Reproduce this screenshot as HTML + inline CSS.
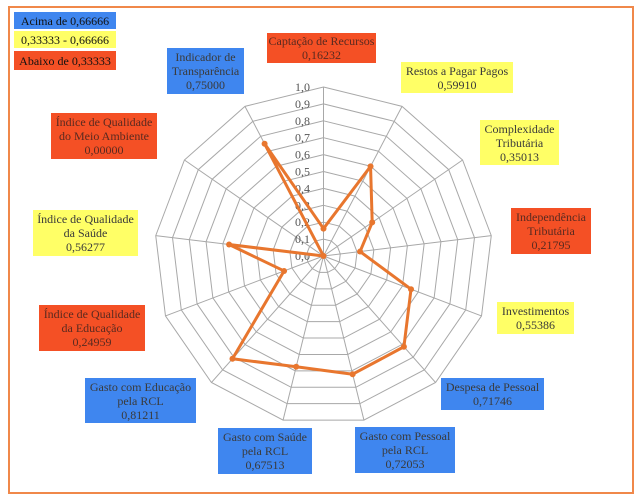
<!DOCTYPE html>
<html><head><meta charset="utf-8"><style>
body{margin:0;width:641px;height:504px;background:#fff;position:relative;overflow:hidden;font-family:"Liberation Serif",serif;}
.frame{position:absolute;left:8px;top:6px;width:626px;height:488px;border:2px solid #f0884a;box-sizing:border-box;}
.b{position:absolute;display:flex;flex-direction:column;justify-content:center;align-items:center;text-align:center;font-family:"Liberation Serif",serif;font-size:12px;line-height:14px;color:#3a3a3a;}
.bl{background:#3f86ef;}
.y{background:#ffff66;}
.r{background:#f45025;color:#5a2a20;}
svg{position:absolute;left:0;top:0;}
</style></head><body>
<div class="frame"></div>
<svg id="s" width="641" height="504"></svg>
<div class="b bl" style="left:14px;top:12px;width:102px;height:17px;color:#111">Acima de 0,66666</div>
<div class="b y" style="left:14px;top:31px;width:102px;height:17px;color:#111">0,33333 - 0,66666</div>
<div class="b r" style="left:14px;top:51px;width:102px;height:19px;color:#111">Abaixo de 0,33333</div>
<div class="b bl" style="left:167px;top:48px;width:77px;height:46px">Indicador de<br>Transparência<br>0,75000</div>
<div class="b r" style="left:267px;top:33px;width:109px;height:30px">Captação de Recursos<br>0,16232</div>
<div class="b y" style="left:401px;top:62px;width:112px;height:31px">Restos a Pagar Pagos<br>0,59910</div>
<div class="b y" style="left:480px;top:120px;width:79px;height:45px">Complexidade<br>Tributária<br>0,35013</div>
<div class="b r" style="left:511px;top:208px;width:80px;height:46px">Independência<br>Tributária<br>0,21795</div>
<div class="b y" style="left:497px;top:302px;width:77px;height:32px">Investimentos<br>0,55386</div>
<div class="b bl" style="left:441px;top:378px;width:103px;height:32px">Despesa de Pessoal<br>0,71746</div>
<div class="b bl" style="left:355px;top:427px;width:100px;height:46px">Gasto com Pessoal<br>pela RCL<br>0,72053</div>
<div class="b bl" style="left:218px;top:428px;width:94px;height:46px">Gasto com Saúde<br>pela RCL<br>0,67513</div>
<div class="b bl" style="left:85px;top:378px;width:111px;height:45px">Gasto com Educação<br>pela RCL<br>0,81211</div>
<div class="b r" style="left:39px;top:305px;width:106px;height:46px">Índice de Qualidade<br>da Educação<br>0,24959</div>
<div class="b y" style="left:33px;top:210px;width:105px;height:46px">Índice de Qualidade<br>da Saúde<br>0,56277</div>
<div class="b r" style="left:51px;top:113px;width:106px;height:46px">Índice de Qualidade<br>do Meio Ambiente<br>0,00000</div>
<script>
var s=document.getElementById('s'),cx=323.5,cy=256,R=169,N=13;
var v=[0.16232,0.59910,0.35013,0.21795,0.55386,0.71746,0.72053,0.67513,0.81211,0.24959,0.56277,0,0.75];
function p(i,r){var a=i*2*Math.PI/N;return [cx+r*Math.sin(a),cy-r*Math.cos(a)];}
var h='';
for(var k=1;k<=10;k++){var pts=[];for(var i=0;i<N;i++)pts.push(p(i,R*k/10).join(','));h+='<polygon points="'+pts.join(' ')+'" fill="none" stroke="#a8a8a8" stroke-width="1"/>';}
for(var i=0;i<N;i++){var q=p(i,R);h+='<line x1="'+cx+'" y1="'+cy+'" x2="'+q[0]+'" y2="'+q[1]+'" stroke="#a8a8a8"/>';}
for(var k=0;k<=10;k++){h+='<text x="310" y="'+(cy-R*k/10+4)+'" font-family="Liberation Serif" font-size="12" fill="#555" text-anchor="end">'+(k/10).toFixed(1).replace('.',',')+'</text>';}
var pts=[];for(var i=0;i<N;i++)pts.push(p(i,R*v[i]).join(','));
h+='<polygon points="'+pts.join(' ')+'" fill="none" stroke="#e8762e" stroke-width="3" stroke-linejoin="round"/>';
for(var i=0;i<N;i++){var q=p(i,R*v[i]);h+='<circle cx="'+q[0]+'" cy="'+q[1]+'" r="3" fill="#e8762e"/>';}
s.innerHTML=h;
</script>
</body></html>
